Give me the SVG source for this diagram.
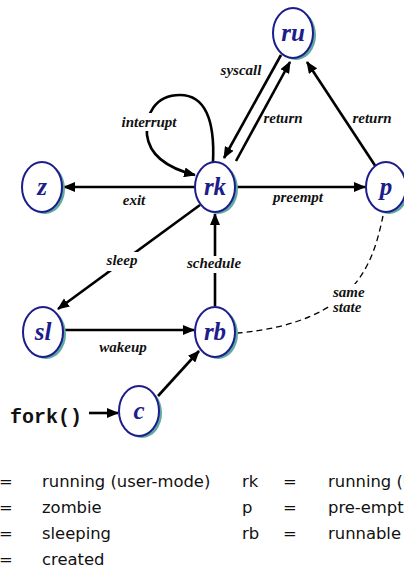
<svg xmlns="http://www.w3.org/2000/svg" width="404" height="571" viewBox="0 0 404 571">
  <style>
    .node ellipse.shadow { fill: #5fa9a1; stroke: none; }
    .node ellipse.ring { fill: #ffffff; stroke: #1c1c8c; stroke-width: 2; }
    .node text { font-family: "Liberation Serif", "Times New Roman", serif; font-weight: bold; font-style: italic; font-size: 25px; fill: #1c1c8c; text-anchor: middle; }
    .edge { fill: none; stroke: #000000; stroke-width: 2.6; }
    .dashed { fill: none; stroke: #000000; stroke-width: 1.3; stroke-dasharray: 6 4; }
    .lbl { font-family: "Liberation Serif", "Times New Roman", serif; font-weight: bold; font-style: italic; font-size: 15px; fill: #111111; text-anchor: middle; }
    .lbl.left { text-anchor: start; }
    .bg { fill: #ffffff; }
    .legend { font-family: "DejaVu Sans", "Open Sans", sans-serif; font-size: 16.4px; fill: #111111; }
    .mono { font-family: "Liberation Mono", "Courier New", monospace; font-weight: bold; font-size: 20px; fill: #111111; }
  </style>
  <defs>
    <marker id="arrow" viewBox="0 0 12 10" refX="11" refY="5" markerWidth="12" markerHeight="10" markerUnits="userSpaceOnUse" orient="auto">
      <path d="M0,0 L12,5 L0,10 z" fill="#000000"/>
    </marker>
  </defs>

  <!-- transitions -->
  <g id="connectors">
    <line class="edge" x1="281" y1="55" x2="224" y2="158" marker-end="url(#arrow)"/>
    <line class="edge" x1="236" y1="161" x2="290" y2="62" marker-end="url(#arrow)"/>
    <line class="edge" x1="376" y1="167" x2="307" y2="62" marker-end="url(#arrow)"/>
    <path class="edge" d="M213,162 C215,120 205,95 180,95 C155,95 145,115 147,135 C150,160 175,170 195,175" marker-end="url(#arrow)"/>
    <line class="edge" x1="195" y1="187" x2="64" y2="187" marker-end="url(#arrow)"/>
    <line class="edge" x1="236" y1="187" x2="365" y2="187" marker-end="url(#arrow)"/>
    <line class="edge" x1="200" y1="205" x2="58" y2="309" marker-end="url(#arrow)"/>
    <line class="edge" x1="215" y1="306" x2="215" y2="214" marker-end="url(#arrow)"/>
    <line class="edge" x1="64" y1="330" x2="194" y2="330" marker-end="url(#arrow)"/>
    <line class="edge" x1="158" y1="396" x2="199" y2="351" marker-end="url(#arrow)"/>
    <line class="edge" x1="89" y1="413" x2="118" y2="413" marker-end="url(#arrow)"/>
    <path class="dashed" d="M383,216 C373,262 358,322 238,333"/>

    <!-- transition labels, masked where they sit on a line -->
    <text class="lbl" x="241" y="75">syscall</text>
    <text class="lbl" x="283" y="123">return</text>
    <text class="lbl" x="372" y="123">return</text>
    <rect class="bg" x="119" y="113" width="60" height="18"/>
    <text class="lbl" x="149" y="127">interrupt</text>
    <text class="lbl" x="134" y="205">exit</text>
    <text class="lbl" x="298" y="202">preempt</text>
    <rect class="bg" x="104" y="252" width="36" height="19"/>
    <text class="lbl" x="122" y="265">sleep</text>
    <rect class="bg" x="183" y="256" width="62" height="17"/>
    <text class="lbl" x="214" y="268">schedule</text>
    <text class="lbl" x="123" y="352">wakeup</text>
    <rect class="bg" x="331" y="284" width="37" height="32"/>
    <text class="lbl left" x="333" y="297">same</text>
    <text class="lbl left" x="333" y="312">state</text>
  </g>

  <!-- states -->
  <g id="ru" class="node">
    <ellipse class="shadow" cx="296" cy="35" rx="20" ry="25"/>
    <ellipse class="ring" cx="293" cy="33" rx="20" ry="25"/>
    <text x="293" y="41">ru</text>
  </g>
  <g id="rk" class="node">
    <ellipse class="shadow" cx="218" cy="189" rx="20" ry="25"/>
    <ellipse class="ring" cx="215" cy="187" rx="20" ry="25"/>
    <text x="215" y="195">rk</text>
  </g>
  <g id="z" class="node">
    <ellipse class="shadow" cx="45" cy="189" rx="20" ry="25"/>
    <ellipse class="ring" cx="42" cy="187" rx="20" ry="25"/>
    <text x="42" y="195">z</text>
  </g>
  <g id="p" class="node">
    <ellipse class="shadow" cx="389" cy="189" rx="20" ry="25"/>
    <ellipse class="ring" cx="386" cy="187" rx="20" ry="25"/>
    <text x="386" y="195">p</text>
  </g>
  <g id="sl" class="node">
    <ellipse class="shadow" cx="46" cy="334" rx="20" ry="25"/>
    <ellipse class="ring" cx="43" cy="332" rx="20" ry="25"/>
    <text x="43" y="340">sl</text>
  </g>
  <g id="rb" class="node">
    <ellipse class="shadow" cx="218" cy="334" rx="20" ry="25"/>
    <ellipse class="ring" cx="215" cy="332" rx="20" ry="25"/>
    <text x="215" y="340">rb</text>
  </g>
  <g id="c" class="node">
    <ellipse class="shadow" cx="142" cy="413" rx="20" ry="25"/>
    <ellipse class="ring" cx="139" cy="411" rx="20" ry="25"/>
    <text x="139" y="419">c</text>
  </g>
  <g id="fork">
    <text class="mono" x="10" y="423">fork()</text>
  </g>

  <!-- key -->
  <g id="legend" class="legend">
    <text x="-1" y="487">=</text>
    <text x="42" y="487">running (user-mode)</text>
    <text x="-1" y="513">=</text>
    <text x="42" y="513">zombie</text>
    <text x="-1" y="539">=</text>
    <text x="42" y="539">sleeping</text>
    <text x="-1" y="565">=</text>
    <text x="42" y="565">created</text>
    <text x="242" y="487">rk</text>
    <text x="283" y="487">=</text>
    <text x="328" y="487">running (kernel-mode)</text>
    <text x="242" y="513">p</text>
    <text x="283" y="513">=</text>
    <text x="328" y="513">pre-empted</text>
    <text x="242" y="539">rb</text>
    <text x="283" y="539">=</text>
    <text x="328" y="539">runnable</text>
  </g>
</svg>
